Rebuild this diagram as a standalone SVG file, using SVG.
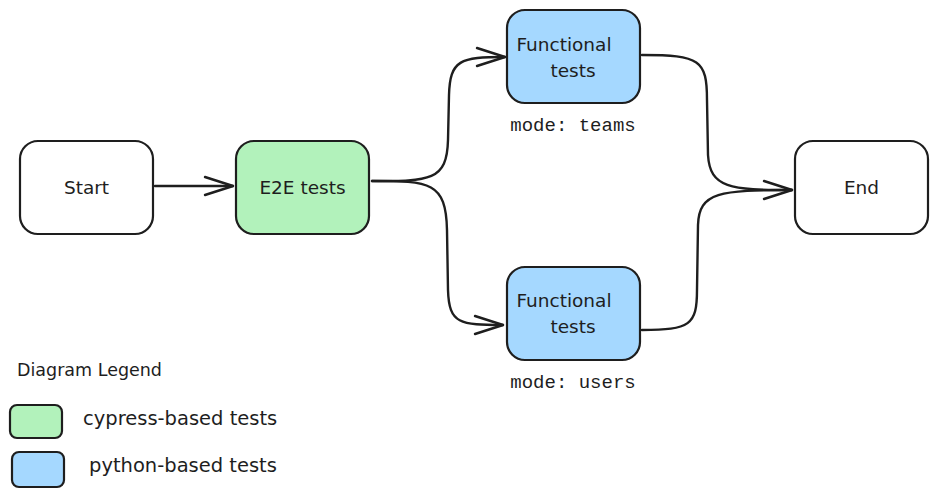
<svg xmlns="http://www.w3.org/2000/svg" width="937" height="496" viewBox="0 0 937 496">
<style>
.box{stroke:#1e1e1e;stroke-width:2.2;}
.lbl{font-family:"DejaVu Sans","Noto Sans",sans-serif;font-size:18.5px;fill:#1e1e1e;text-anchor:middle;dominant-baseline:central;}
.mono{font-family:"Liberation Mono","DejaVu Sans Mono",monospace;font-size:19px;fill:#1e1e1e;text-anchor:middle;dominant-baseline:central;}
.leg{font-family:"DejaVu Sans","Noto Sans",sans-serif;font-size:19.5px;fill:#1e1e1e;dominant-baseline:central;}
.con{fill:none;stroke:#1e1e1e;stroke-width:2.4;stroke-linecap:round;stroke-linejoin:round;}
</style>
<defs>
<marker id="arr" viewBox="0 0 32 22" refX="30" refY="11" markerWidth="32" markerHeight="22" markerUnits="userSpaceOnUse" orient="auto">
<path d="M2,2 L30,11 L2,20" fill="none" stroke="#1e1e1e" stroke-width="2.4" stroke-linecap="round" stroke-linejoin="round"/>
</marker>
</defs>
<rect width="937" height="496" fill="#ffffff"/>
<g id="connectors">
<path class="con" d="M155,186 L233,186" marker-end="url(#arr)"/>
<path class="con" d="M372,181 C430,181 447,181 448,140 L449,95 C450,60 460,57 505,57" marker-end="url(#arr)"/>
<path class="con" d="M372,181 C430,181 446,182 447,230 L448,290 C449,324 460,325 503,325" marker-end="url(#arr)"/>
<path class="con" d="M642,55 C700,55 707,60 707,100 L708,155 C710,188 730,190 792,190" marker-end="url(#arr)"/>
<path class="con" d="M642,330 C690,330 697,325 697,290 L698,225 C699,192 720,190 792,190"/>
</g>
<g id="start">
<rect class="box" x="20" y="141" width="133" height="93" rx="18" fill="#ffffff"/>
<text class="lbl" x="86.5" y="187.5">Start</text>
</g>
<g id="e2e">
<rect class="box" x="236" y="141" width="133" height="93" rx="18" fill="#b2f2bb"/>
<text class="lbl" x="302.5" y="187.5">E2E tests</text>
</g>
<g id="func-teams">
<rect class="box" x="507" y="10" width="133" height="93" rx="18" fill="#a5d8ff"/>
<text class="lbl" x="564" y="44">Functional</text>
<text class="lbl" x="573" y="70">tests</text>
<text class="mono" x="573" y="126">mode: teams</text>
</g>
<g id="func-users">
<rect class="box" x="507" y="267" width="133" height="93" rx="18" fill="#a5d8ff"/>
<text class="lbl" x="564" y="300">Functional</text>
<text class="lbl" x="573" y="326">tests</text>
<text class="mono" x="573" y="383">mode: users</text>
</g>
<g id="end">
<rect class="box" x="795" y="141" width="133" height="93" rx="18" fill="#ffffff"/>
<text class="lbl" x="861.5" y="187">End</text>
</g>
<g id="legend">
<text class="leg" x="17" y="370" style="font-size:17.5px">Diagram Legend</text>
<rect class="box" x="10" y="405" width="52" height="33" rx="7" fill="#b2f2bb"/>
<text class="leg" x="83" y="418">cypress-based tests</text>
<rect class="box" x="12" y="452" width="52" height="35" rx="7" fill="#a5d8ff"/>
<text class="leg" x="89" y="465">python-based tests</text>
</g>
</svg>
